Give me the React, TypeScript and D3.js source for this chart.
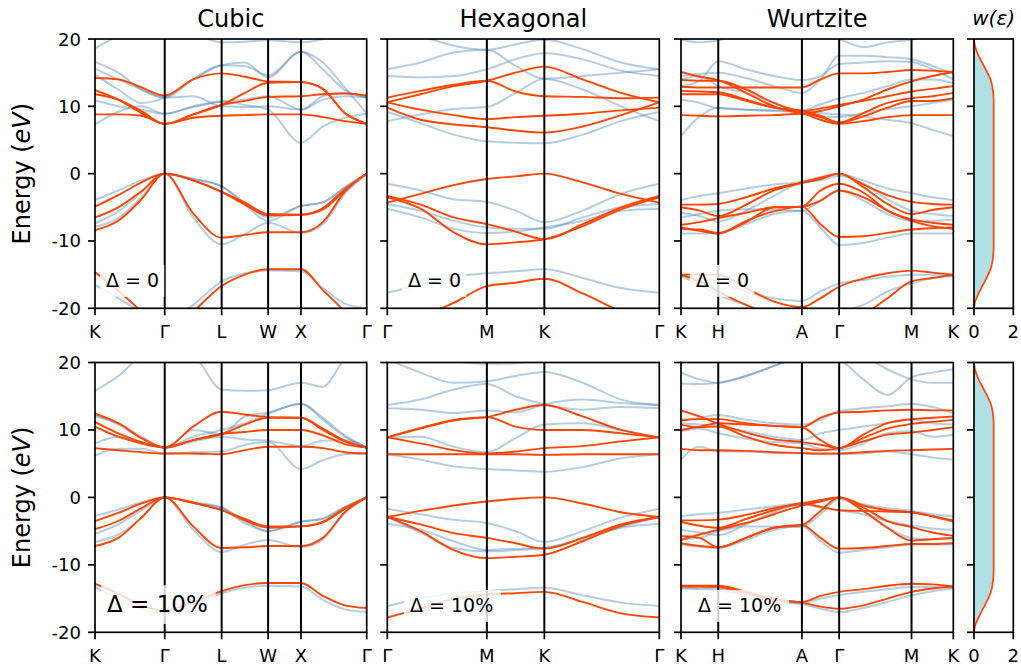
import React from "react";
import * as d3 from "d3";

// k-paths (high-symmetry points and sample points along each path)
const cubicTicks = [0, 1.0607, 1.9267, 2.6338, 3.1338, 4.1338];
const cubicNames = ["K", "Γ", "L", "W", "X", "Γ"];
const cubicK = [0, 0.3536, 0.7071, 1.0607, 1.4937, 1.9267, 2.2803, 2.6338, 3.1338, 3.4671, 3.8005, 4.1338];

const hexTicks = [0, 0.5774, 0.9107, 1.5774];
const hexNames = ["Γ", "M", "K", "Γ"];
const hexK = [0, 0.1925, 0.3849, 0.5774, 0.744, 0.9107, 1.1329, 1.3552, 1.5774];

const wzTicks = [0, 0.297, 0.964, 1.261, 1.838, 2.171];
const wzNames = ["K", "H", "A", "Γ", "M", "K"];
const wzK = [0, 0.1485, 0.297, 0.5193, 0.7417, 0.964, 1.1125, 1.261, 1.4533, 1.6457, 1.838, 2.0045, 2.171];

const yTicks = [20, 10, 0, -10, -20];

// Cubic, Δ = 0
const cubicBlue0 = [
  [-3.9, -2.5, -1.0, 0, -0.8, -1.9, -4.3, -6.5, -4.8, -4.2, -2.0, 0],
  [-7.4, -5.6, -2.8, 0, -0.8, -1.9, -4.6, -7.0, -4.8, -4.3, -2.1, 0],
  [-7.9, -6.6, -3.5, 0, -6.5, -10.5, -9.0, -7.3, -8.8, -7.5, -3.0, 0],
  [-16.5, -18.5, -20.5, -22, -19.5, -16.0, -14.8, -14.4, -14.5, -17.0, -19.3, -20.0],
  [7.3, 9.2, 10.0, 8.9, 10.0, 10.7, 10.2, 9.5, 4.6, 7.0, 8.3, 8.9],
  [10.9, 10.0, 9.5, 8.9, 9.9, 10.7, 11.0, 11.5, 9.5, 11.0, 11.5, 11.3],
  [14.7, 12.5, 10.5, 11.3, 14.0, 16.1, 16.0, 14.6, 18.1, 16.5, 12.8, 8.9],
  [15.6, 14.0, 12.5, 11.3, 14.0, 16.1, 16.5, 14.3, 18.1, 15.5, 12.4, 11.3],
  [16.6, 15.0, 12.5, 11.3, 11.5, 10.0, 9.9, 10.0, 9.5, 11.5, 12.0, 11.3],
  [18.6, 20.5, 22, 23, 21, 19.5, 19.6, 19.8, 19.5, 20.0, 21, 23],
];
const cubicRed0 = [
  [-4.9, -3.2, -1.3, 0, -1.0, -2.7, -4.6, -6.2, -6.1, -5.1, -2.3, 0],
  [-6.5, -5.0, -2.6, 0, -1.0, -2.7, -4.3, -6.0, -6.1, -5.3, -2.5, 0],
  [-8.4, -7.0, -3.8, 0, -5.9, -9.5, -9.1, -8.7, -8.7, -7.2, -2.7, 0],
  [-14.6, -17.4, -20.5, -24, -20.5, -16.7, -15.0, -14.2, -14.2, -17.3, -20.5, -24],
  [8.8, 8.8, 8.6, 7.4, 8.3, 8.6, 8.7, 8.8, 8.8, 8.4, 7.8, 7.4],
  [11.8, 11.0, 9.3, 7.4, 8.8, 10.2, 10.8, 11.4, 11.5, 11.8, 11.9, 11.6],
  [12.4, 11.0, 9.0, 7.4, 8.8, 10.2, 12.0, 13.5, 13.6, 12.6, 9.0, 7.4],
  [14.2, 14.0, 12.8, 11.6, 14.0, 14.9, 14.4, 13.7, 13.6, 12.6, 9.0, 7.4],
];

// Cubic, Δ = 10%
const cubicBlue1 = [
  [-2.8, -1.8, -0.7, 0, -0.7, -1.5, -3.5, -5.0, -3.6, -3.1, -1.4, 0],
  [-5.4, -4.0, -1.9, 0, -0.8, -1.5, -3.8, -5.0, -3.6, -3.2, -1.5, 0],
  [-6.6, -5.5, -3.0, 0, -4.8, -8.1, -7.0, -6.3, -7.4, -6.2, -2.3, 0],
  [-13.3, -15.0, -16.5, -17.2, -15.8, -14.2, -13.4, -13.1, -13.2, -15.2, -16.6, -17.0],
  [6.2, 7.2, 7.2, 6.5, 6.7, 6.8, 7.8, 8.2, 4.2, 5.5, 6.4, 6.5],
  [8.0, 9.0, 8.0, 7.4, 8.3, 9.0, 8.6, 8.4, 7.6, 8.4, 8.5, 7.4],
  [12.3, 10.8, 8.8, 7.4, 10.0, 9.4, 12.0, 12.6, 13.9, 11.5, 9.0, 7.4],
  [12.0, 11.0, 9.0, 7.4, 9.0, 10.0, 11.0, 12.4, 13.9, 11.8, 9.2, 7.4],
  [15.8, 18.0, 21, 22, 21, 16.0, 15.8, 15.9, 17.0, 16.4, 20.5, 22],
];
const cubicRed1 = [
  [-3.5, -2.3, -0.9, 0, -0.8, -1.9, -3.2, -4.3, -4.3, -3.6, -1.6, 0],
  [-4.7, -3.5, -1.6, 0, -0.8, -1.9, -3.4, -4.5, -4.3, -3.7, -1.7, 0],
  [-7.2, -6.0, -3.0, 0, -4.3, -7.5, -7.4, -7.2, -7.2, -6.0, -2.2, 0],
  [-12.8, -14.3, -16.0, -16.8, -15.5, -13.9, -13.0, -12.7, -12.7, -14.6, -16.0, -16.4],
  [7.3, 7.0, 6.7, 6.5, 6.5, 6.4, 7.0, 7.5, 7.5, 7.3, 6.7, 6.5],
  [10.5, 9.0, 8.0, 7.4, 8.5, 9.4, 9.7, 10.0, 10.0, 9.2, 7.9, 7.4],
  [11.2, 9.5, 8.2, 7.4, 8.5, 9.4, 10.8, 11.8, 11.8, 10.0, 8.3, 7.4],
  [12.4, 11.0, 8.8, 7.4, 10.5, 12.7, 12.3, 11.9, 11.8, 10.2, 8.4, 7.4],
];

// Hexagonal, Δ = 0
const hexBlue0 = [
  [-1.5, -2.5, -3.8, -4.2, -5.5, -7.2, -5.5, -3.0, -1.5],
  [-4.5, -5.5, -7.0, -8.0, -8.2, -8.2, -6.5, -5.0, -4.5],
  [-5.2, -6.5, -8.2, -8.8, -8.6, -8.0, -7.0, -5.5, -5.2],
  [-17.7, -16.5, -15.3, -14.8, -14.5, -14.2, -15.5, -17.0, -17.7],
  [9.2, 7.5, 5.8, 4.8, 4.6, 4.5, 5.8, 7.8, 9.2],
  [7.8, 8.8, 9.6, 9.9, 12.0, 14.1, 12.5, 10.0, 7.8],
  [15.5, 16.5, 18.0, 18.4, 16.0, 14.1, 14.5, 15.0, 15.5],
  [14.5, 14.3, 14.5, 15.5, 17.0, 17.9, 17.0, 15.3, 14.5],
  [22, 20.5, 19.0, 18.4, 19.2, 19.9, 18.5, 16.5, 15.5],
];
const hexRed0 = [
  [-4.3, -3.0, -1.7, -0.8, -0.4, 0, -1.3, -3.0, -4.3],
  [-3.3, -4.6, -6.5, -7.5, -8.6, -9.75, -7.5, -5.0, -3.3],
  [-3.5, -5.2, -8.7, -10.5, -10.2, -9.75, -7.8, -5.3, -3.5],
  [-23, -21.2, -19.2, -16.7, -16.2, -15.6, -17.8, -20.5, -23],
  [9.8, 8.0, 7.3, 6.9, 6.4, 6.1, 7.0, 8.7, 10.6],
  [10.6, 9.5, 8.7, 8.1, 8.4, 8.6, 8.9, 9.4, 9.8],
  [11.3, 12.3, 13.2, 13.8, 12.2, 11.5, 11.4, 11.2, 11.3],
  [10.6, 11.8, 13.0, 13.8, 15.0, 15.9, 14.0, 12.0, 10.6],
];

// Hexagonal, Δ = 10%
const hexBlue1 = [
  [-1.7, -2.5, -3.3, -3.8, -5.0, -6.6, -5.0, -3.0, -1.7],
  [-3.9, -4.8, -6.5, -7.8, -7.6, -7.5, -6.0, -4.5, -3.9],
  [-2.9, -5.2, -7.5, -8.0, -7.8, -7.5, -6.2, -4.4, -2.9],
  [-16.1, -15.0, -14.2, -13.9, -13.6, -13.4, -14.5, -15.6, -16.1],
  [6.4, 5.6, 4.6, 4.2, 4.0, 3.8, 4.5, 5.8, 6.4],
  [8.9, 9.0, 7.5, 6.7, 8.8, 10.8, 11.0, 10.0, 8.9],
  [13.2, 13.0, 12.5, 12.9, 12.6, 13.8, 14.5, 14.0, 13.7],
  [13.7, 14.5, 16.0, 16.8, 15.0, 13.8, 13.0, 13.4, 13.2],
  [20.5, 18.5, 17.0, 17.2, 18.0, 18.6, 17.0, 14.5, 13.7],
  [22, 21, 20.2, 19.8, 19.9, 20.5, 21, 22, 22],
];
const hexRed1 = [
  [-2.9, -2.0, -1.2, -0.6, -0.2, 0, -0.9, -2.2, -2.9],
  [-2.9, -4.0, -5.3, -6.0, -6.8, -7.6, -6.0, -4.0, -2.9],
  [-2.9, -5.0, -7.8, -9.0, -8.8, -8.5, -6.5, -4.2, -2.9],
  [-17.8, -16.5, -15.0, -14.4, -14.2, -14.0, -15.5, -17.2, -17.8],
  [6.4, 6.4, 6.4, 6.4, 6.4, 6.3, 6.4, 6.4, 6.4],
  [8.9, 8.0, 7.0, 6.5, 6.8, 7.3, 7.6, 8.3, 8.9],
  [8.9, 10.2, 11.4, 11.9, 10.5, 10.0, 10.0, 9.5, 8.9],
  [8.9, 10.3, 11.5, 11.9, 13.0, 13.7, 12.0, 10.0, 8.9],
];

// Wurtzite, Δ = 0
const wzBlue0 = [
  [-3.9, -3.3, -2.9, -2.2, -1.6, -1.2, -0.5, 0, -1.0, -2.2, -2.9, -3.5, -3.9],
  [-5.8, -6.3, -7.1, -5.5, -3.3, -1.3, -1.0, -0.3, -1.5, -3.8, -5.5, -6.0, -6.3],
  [-6.5, -6.0, -5.5, -5.3, -5.4, -5.5, -4.0, -2.5, -4.0, -6.0, -7.0, -7.0, -6.8],
  [-8.9, -8.9, -8.9, -7.5, -6.0, -5.5, -8.0, -10.6, -10.3, -9.5, -8.9, -8.9, -8.9],
  [-15.2, -15.5, -16.0, -17.5, -18.5, -18.9, -17.5, -16.3, -15.8, -15.3, -15.0, -15.0, -15.2],
  [-15.2, -16.5, -18.0, -19.5, -20.5, -20.5, -20.8, -20.5, -19.5, -17.5, -16.3, -15.5, -15.2],
  [5.6, 8.5, 9.8, 9.5, 9.3, 9.2, 9.0, 8.8, 8.5, 8.0, 7.5, 6.5, 5.6],
  [11.0, 10.5, 9.7, 9.5, 9.4, 9.3, 8.5, 8.4, 9.0, 9.6, 10.0, 10.5, 11.0],
  [13.0, 13.8, 16.7, 15.5, 14.5, 13.9, 14.5, 16.3, 16.5, 16.7, 16.6, 15.5, 14.0],
  [14.0, 14.5, 13.0, 12.0, 10.5, 9.4, 10.3, 11.2, 12.0, 13.0, 14.0, 14.0, 13.5],
  [14.5, 14.8, 15.0, 14.2, 13.0, 12.0, 14.0, 17.5, 17.5, 17.3, 17.0, 16.0, 14.8],
  [19.9, 19.5, 19.8, 21, 22, 22, 21, 20.0, 18.8, 19.5, 19.9, 20.5, 20.5],
];
const wzRed0 = [
  [-4.6, -4.6, -4.5, -3.5, -2.2, -1.3, -0.6, 0, -1.6, -3.2, -4.2, -4.5, -4.6],
  [-5.0, -5.5, -6.3, -4.6, -2.5, -1.4, -0.8, 0, -2.0, -4.5, -6.0, -5.4, -5.0],
  [-7.6, -7.2, -6.6, -5.8, -5.0, -4.9, -2.5, -1.5, -2.8, -5.5, -6.8, -7.3, -7.6],
  [-8.0, -8.5, -8.9, -7.0, -5.6, -4.9, -7.5, -9.4, -9.3, -8.8, -8.3, -8.1, -8.0],
  [-8.2, -8.3, -8.8, -7.2, -5.0, -4.9, -4.0, -2.5, -3.5, -5.5, -7.0, -7.8, -8.2],
  [-15.0, -15.0, -15.0, -17.0, -19.0, -19.8, -18.5, -16.8, -15.6, -14.8, -14.4, -14.7, -15.0],
  [-15.0, -16.0, -17.5, -19.5, -21, -19.8, -21.5, -22.5, -21, -18.5, -16.0, -15.5, -15.0],
  [8.7, 8.6, 8.5, 8.6, 8.7, 8.9, 8.0, 7.4, 7.8, 8.4, 8.7, 8.7, 8.7],
  [11.8, 11.8, 11.8, 10.8, 9.8, 9.3, 8.6, 7.6, 8.5, 9.8, 10.8, 10.8, 11.2],
  [12.9, 12.8, 12.8, 12.8, 12.8, 12.8, 14.0, 14.9, 14.9, 15.1, 15.4, 15.3, 15.1],
  [13.9, 13.8, 13.8, 12.5, 10.5, 9.3, 9.7, 10.2, 10.8, 11.5, 12.2, 12.6, 13.0],
  [15.1, 14.4, 13.9, 12.0, 10.0, 9.0, 9.3, 10.0, 11.0, 12.5, 13.7, 14.5, 15.1],
  [12.3, 12.2, 12.1, 11.0, 9.8, 9.1, 8.4, 7.6, 9.0, 10.5, 11.2, 11.5, 12.0],
];

// Wurtzite, Δ = 10%
const wzBlue1 = [
  [-2.8, -2.5, -2.3, -1.8, -1.3, -0.8, -0.4, 0, -1.0, -1.6, -2.0, -2.5, -2.8],
  [-4.8, -5.2, -5.6, -4.0, -2.2, -1.0, -1.5, -1.9, -2.5, -3.5, -4.2, -4.6, -4.8],
  [-6.2, -6.0, -5.0, -4.3, -4.3, -4.3, -2.5, -0.2, -2.0, -4.5, -6.0, -6.2, -6.2],
  [-7.0, -7.3, -7.5, -6.3, -4.8, -4.3, -6.5, -8.2, -7.8, -7.4, -7.0, -7.0, -7.0],
  [-13.4, -13.4, -13.5, -14.3, -15.2, -15.7, -15.0, -14.5, -14.0, -13.6, -13.3, -13.3, -13.4],
  [-13.5, -13.6, -13.8, -14.5, -15.4, -15.8, -16.5, -17.0, -16.4, -15.5, -14.5, -13.9, -13.5],
  [5.6, 7.5, 6.8, 6.8, 6.6, 6.5, 6.4, 6.4, 6.5, 6.8, 6.4, 5.9, 5.6],
  [9.8, 10.2, 9.5, 8.7, 8.2, 8.0, 7.2, 7.0, 8.0, 9.5, 9.8, 9.0, 9.3],
  [11.5, 11.8, 12.2, 11.5, 11.0, 10.8, 11.5, 12.8, 13.2, 13.5, 13.9, 13.4, 12.5],
  [11.0, 10.8, 10.5, 9.8, 9.0, 8.5, 9.5, 10.0, 10.5, 11.0, 11.5, 11.0, 10.8],
  [18.5, 17.5, 17.0, 18.0, 19.5, 21, 21.5, 20.5, 17.5, 15.2, 17.8, 18.5, 19.0],
  [16.9, 16.8, 17.0, 18.0, 19.5, 21, 22, 22, 21, 19.0, 17.5, 17.0, 17.0],
];
const wzRed1 = [
  [-3.4, -3.4, -3.3, -2.6, -1.6, -0.9, -0.4, 0, -1.2, -1.9, -2.2, -2.8, -3.4],
  [-3.6, -4.2, -4.5, -3.2, -1.9, -0.9, -1.4, -1.9, -2.0, -2.1, -2.2, -2.8, -3.6],
  [-5.7, -6.0, -7.4, -6.0, -4.5, -4.1, -2.0, 0, -1.5, -3.5, -4.4, -5.2, -5.7],
  [-6.8, -7.2, -7.4, -6.0, -4.5, -4.1, -6.0, -7.6, -7.5, -7.2, -6.9, -6.9, -6.8],
  [-6.3, -5.5, -4.8, -3.8, -2.5, -1.2, -0.6, 0, -2.0, -4.5, -6.4, -6.2, -6.0],
  [-13.1, -13.1, -13.1, -14.0, -15.0, -15.5, -14.6, -14.0, -13.6, -13.1, -12.8, -12.9, -13.2],
  [-13.2, -13.2, -13.3, -14.2, -15.2, -15.6, -16.2, -16.5, -16.0, -15.0, -14.0, -13.5, -13.2],
  [7.2, 7.0, 7.0, 6.9, 6.7, 6.6, 6.5, 6.5, 6.7, 6.9, 7.0, 7.1, 7.2],
  [10.8, 10.4, 10.5, 9.0, 7.8, 7.3, 7.0, 7.3, 8.3, 9.3, 9.6, 10.0, 10.4],
  [11.4, 11.6, 11.6, 11.0, 10.6, 10.4, 11.8, 12.6, 12.7, 12.9, 13.0, 12.9, 12.9],
  [12.9, 12.0, 10.9, 9.6, 8.6, 8.2, 7.8, 7.3, 8.8, 10.2, 10.9, 11.2, 11.5],
  [10.0, 10.5, 11.0, 10.8, 10.6, 10.4, 8.5, 7.3, 9.3, 11.0, 11.6, 11.8, 12.0],
];

// weight function w(ε)
const wEnergy = [-20, -19, -18, -17, -16, -15, -14, -13, -12, -11, -10, 0, 10, 11, 12, 13, 14, 15, 16, 17, 18, 19, 20];
const wValue = [0, 0.06, 0.2, 0.37, 0.55, 0.72, 0.86, 0.94, 0.98, 1, 1, 1, 1, 1, 0.98, 0.93, 0.84, 0.68, 0.5, 0.32, 0.16, 0.05, 0];

const FONT = "DejaVu Sans";
const BLUE = "steelblue";
const RED = "orangered";

const cols = [[95, 366.7], [387.3, 659.3], [681, 953.3]];
const wCol = [974, 1013.3];
const rows = [[39, 308.3], [362.5, 632.3]];

type PanelProps = {
  id: string;
  col: number;
  row: number;
  ticks: number[];
  names: string[];
  kPts: number[];
  blue: number[][];
  red: number[][];
  label: string;
  lx: number;
  fs: number;
  title?: string;
};

function BandPanel({ id, col, row, ticks, names, kPts, blue, red, label, lx, fs, title }: PanelProps) {
  const [x0, x1] = cols[col];
  const [y0, y1] = rows[row];
  const x = d3.scaleLinear().domain([ticks[0], ticks[ticks.length - 1]]).range([x0, x1]);
  const y = d3.scaleLinear().domain([-20, 20]).range([y1, y0]);
  const line = d3
    .line<number>()
    .x((_, i) => x(kPts[i]))
    .y((d) => y(d))
    .curve(d3.curveMonotoneX);

  const ly = row === 0 ? 287 : 612;
  const tw = fs * (label.length > 5 ? 4.42 : 2.7);

  return (
    <g>
      <defs>
        <clipPath id={id}>
          <rect x={x0} y={y0} width={x1 - x0} height={y1 - y0} />
        </clipPath>
      </defs>
      <g clipPath={`url(#${id})`}>
        {blue.map((b, i) => (
          <path key={"b" + i} d={line(b) || ""} fill="none" stroke={BLUE} strokeOpacity={0.4} strokeWidth={2} />
        ))}
        {red.map((b, i) => (
          <path key={"r" + i} d={line(b) || ""} fill="none" stroke={RED} strokeWidth={1.9} />
        ))}
        {ticks.slice(1, -1).map((t, i) => (
          <line key={"v" + i} x1={x(t)} x2={x(t)} y1={y0} y2={y1} stroke="black" strokeWidth={2} />
        ))}
        <rect x={lx - 6} y={ly - fs * 1.16} width={tw + 13} height={fs * 1.68} fill="white" fillOpacity={0.8} />
      </g>
      <text x={lx} y={ly} fontFamily={FONT} fontSize={fs} fill="black">
        {label}
      </text>
      <rect x={x0} y={y0} width={x1 - x0} height={y1 - y0} fill="none" stroke="black" strokeWidth={1.7} />
      {yTicks.map((v) => (
        <g key={"y" + v}>
          <line x1={x0 - 7} x2={x0} y1={y(v)} y2={y(v)} stroke="black" strokeWidth={1.7} />
          {col === 0 && (
            <text x={x0 - 14} y={y(v) + 6.5} textAnchor="end" fontFamily={FONT} fontSize={18}>
              {String(v)}
            </text>
          )}
        </g>
      ))}
      {ticks.map((t, i) => (
        <g key={"x" + i}>
          <line x1={x(t)} x2={x(t)} y1={y1} y2={y1 + 7} stroke="black" strokeWidth={1.7} />
          <text x={x(t)} y={y1 + 30} textAnchor="middle" fontFamily={FONT} fontSize={18}>
            {names[i]}
          </text>
        </g>
      ))}
      {title && (
        <text x={(x0 + x1) / 2} y={27} textAnchor="middle" fontFamily={FONT} fontSize={24}>
          {title}
        </text>
      )}
    </g>
  );
}

function WeightPanel({ row }: { row: number }) {
  const [x0, x1] = wCol;
  const [y0, y1] = rows[row];
  const x = d3.scaleLinear().domain([0, 2]).range([x0, x1]);
  const y = d3.scaleLinear().domain([-20, 20]).range([y1, y0]);
  const area = d3
    .area<number>()
    .y((d) => y(d))
    .x0(x(0))
    .x1((_, i) => x(wValue[i]))
    .curve(d3.curveMonotoneY);
  const line = d3
    .line<number>()
    .y((d) => y(d))
    .x((_, i) => x(wValue[i]))
    .curve(d3.curveMonotoneY);
  return (
    <g>
      <path d={area(wEnergy) || ""} fill="#b0e0e6" />
      <path d={line(wEnergy) || ""} fill="none" stroke={RED} strokeWidth={1.7} />
      <rect x={x0} y={y0} width={x1 - x0} height={y1 - y0} fill="none" stroke="black" strokeWidth={1.7} />
      {yTicks.map((v) => (
        <line key={v} x1={x0 - 7} x2={x0} y1={y(v)} y2={y(v)} stroke="black" strokeWidth={1.7} />
      ))}
      {[0, 2].map((t) => (
        <g key={t}>
          <line x1={x(t)} x2={x(t)} y1={y1} y2={y1 + 7} stroke="black" strokeWidth={1.7} />
          <text x={x(t)} y={y1 + 30} textAnchor="middle" fontFamily={FONT} fontSize={18}>
            {String(t)}
          </text>
        </g>
      ))}
      {row === 0 && (
        <text x={(x0 + x1) / 2} y={25} textAnchor="middle" fontFamily={FONT} fontSize={20} fontStyle="italic">
          w(ε)
        </text>
      )}
    </g>
  );
}

export default function App() {
  return (
    <svg width={1021} height={667} style={{ position: "absolute", left: 0, top: 0, background: "white" }}>
      {rows.map((r, ri) => (
        <text
          key={"yl" + ri}
          transform={`translate(30,${(r[0] + r[1]) / 2}) rotate(-90)`}
          textAnchor="middle"
          fontFamily={FONT}
          fontSize={24}
        >
          Energy (<tspan fontStyle="italic">eV</tspan>)
        </text>
      ))}
      <BandPanel id="c0" col={0} row={0} ticks={cubicTicks} names={cubicNames} kPts={cubicK} blue={cubicBlue0} red={cubicRed0} label="Δ = 0" lx={106} fs={19} title="Cubic" />
      <BandPanel id="h0" col={1} row={0} ticks={hexTicks} names={hexNames} kPts={hexK} blue={hexBlue0} red={hexRed0} label="Δ = 0" lx={408} fs={19} title="Hexagonal" />
      <BandPanel id="w0" col={2} row={0} ticks={wzTicks} names={wzNames} kPts={wzK} blue={wzBlue0} red={wzRed0} label="Δ = 0" lx={696} fs={19} title="Wurtzite" />
      <BandPanel id="c1" col={0} row={1} ticks={cubicTicks} names={cubicNames} kPts={cubicK} blue={cubicBlue1} red={cubicRed1} label="Δ = 10%" lx={107} fs={23} />
      <BandPanel id="h1" col={1} row={1} ticks={hexTicks} names={hexNames} kPts={hexK} blue={hexBlue1} red={hexRed1} label="Δ = 10%" lx={410} fs={19} />
      <BandPanel id="w1" col={2} row={1} ticks={wzTicks} names={wzNames} kPts={wzK} blue={wzBlue1} red={wzRed1} label="Δ = 10%" lx={698} fs={19} />
      <WeightPanel row={0} />
      <WeightPanel row={1} />
    </svg>
  );
}
